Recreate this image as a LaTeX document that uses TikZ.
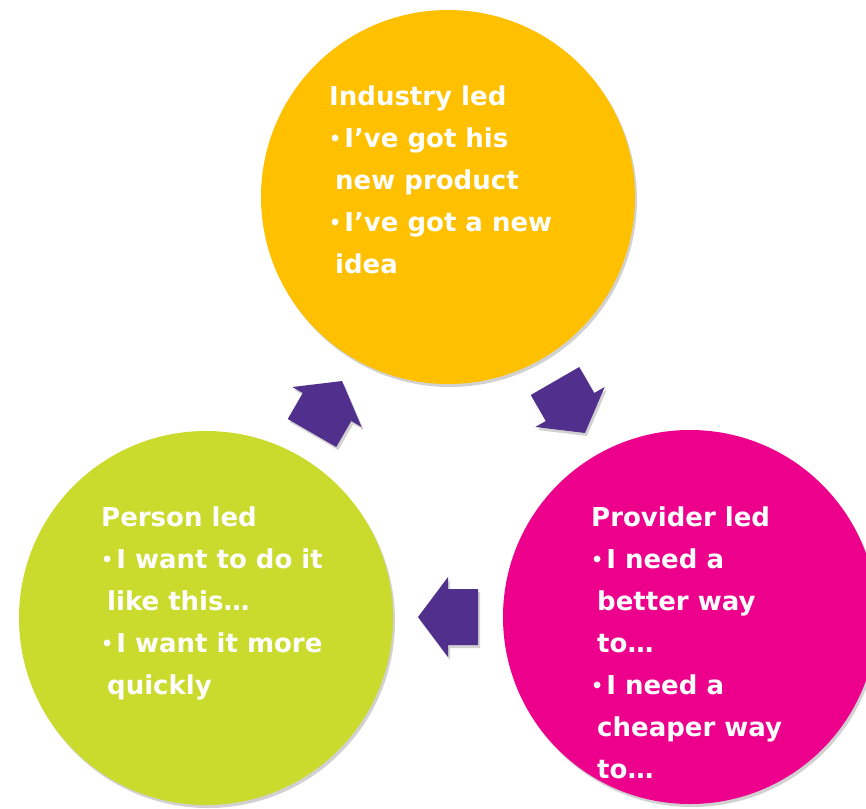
\documentclass[tikz,border=0pt]{standalone}
\usepackage{fontspec}
\setmainfont{DejaVu Sans}
\usetikzlibrary{shadows}

\definecolor{industryorange}{RGB}{255,192,0}
\definecolor{personlime}{RGB}{203,219,45}
\definecolor{providerpink}{RGB}{236,0,140}
\definecolor{cyclepurple}{RGB}{80,48,140}

\tikzset{
  bubble/.style={circle, minimum size=374pt, inner sep=0pt,
    drop shadow={shadow xshift=2pt, shadow yshift=-3pt, opacity=0.18, fill=black}},
  bubbletext/.style={anchor=north west, inner sep=0pt, align=left, text=white,
    font=\bfseries\fontsize{26}{42}\selectfont},
  arrowfill/.style={fill=cyclepurple,
    drop shadow={shadow xshift=2pt, shadow yshift=-3pt, opacity=0.18, fill=black}}
}

% block arrow: tail middle, direction
\newcommand{\cyclearrow}[2]{%
  \fill[arrowfill, shift={#1}, rotate=#2]
    (0,-28) -- (30,-28) -- (30,-40) -- (60,0) -- (30,40) -- (30,28) -- (0,28) -- cycle;}

\newcommand{\contline}{\hspace*{6pt}}
\newcommand{\bul}{\raisebox{2.5pt}{\fontsize{19}{42}\selectfont•}\hspace{3pt}}

\begin{document}
\begin{tikzpicture}[x=1pt, y=-1pt]
\clip (0,0) rectangle (866,808);
\fill[white] (0,0) rectangle (866,808);

\node[bubble, fill=industryorange] (industry) at (448,197) {};
\node[bubble, fill=personlime] (person) at (206,618) {};
\node[bubble, fill=providerpink] (provider) at (690,617) {};

\cyclearrow{(312,433)}{60}
\cyclearrow{(555,381)}{-60}
\cyclearrow{(478,617)}{180}

\node[bubbletext] (industrytext) at (329,86) {Industry led\\
  \bul I’ve got his\\ \contline new product\\
  \bul I’ve got a new\\ \contline idea};
\node[bubbletext] (persontext) at (101,507) {Person led\\
  \bul I want to do it\\ \contline like this…\\
  \bul I want it more\\ \contline quickly};
\node[bubbletext] (providertext) at (591,507) {Provider led\\
  \bul I need a\\ \contline better way\\ \contline to…\\
  \bul I need a\\ \contline cheaper way\\ \contline to…};
\end{tikzpicture}
\end{document}
